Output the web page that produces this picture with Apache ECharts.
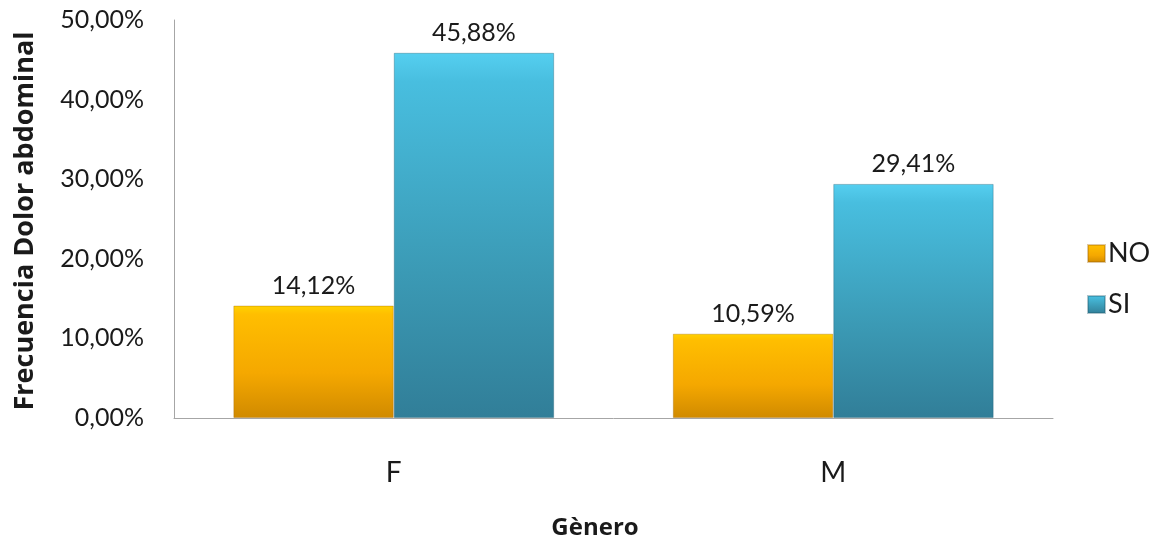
<!DOCTYPE html>
<html><head><meta charset="utf-8">
<script src="https://cdn.jsdelivr.net/npm/echarts@6/dist/echarts.min.js"></script>
<style>html,body{margin:0;padding:0;background:#fff}#c{width:1161px;height:542px}</style>
</head><body><div id="c"></div>
<script>
const categories = ['F', 'M'];
const seriesNames = ['NO', 'SI'];
const noValues = [14.12, 10.59];
const siValues = [45.88, 29.41];
const yTicks = [0, 10, 20, 30, 40, 50];
const xTitle = 'Gènero';
const yTitle = 'Frecuencia Dolor abdominal';

const FONT = 'Lato, "Open Sans", sans-serif';
const TFONT = '"Open Sans", Lato, sans-serif';
const fmt = v => v.toFixed(2).replace('.', ',') + '%';
const grad = (stops) => new echarts.graphic.LinearGradient(0, 0, 0, 1, stops);
const orange = grad([{offset:0,color:'#FFD200'},{offset:0.08,color:'#FFBE00'},{offset:0.6,color:'#F5A800'},{offset:1,color:'#D08A00'}]);
const blue = grad([{offset:0,color:'#55CFF0'},{offset:0.08,color:'#48BEDF'},{offset:0.6,color:'#3B9AB5'},{offset:1,color:'#317E98'}]);
const labelStyle = {show: true, position: 'top', distance: 7, fontFamily: FONT, fontSize: 25, color: '#1a1a1a', formatter: p => fmt(p.value)};

const chart = echarts.init(document.getElementById('c'), null, {renderer:'canvas'});
chart.setOption({
  animation: false,
  grid: {left: 174, right: 108, top: 20, bottom: 124, containLabel: false},
  legend: {
    orient: 'vertical', left: 1082, top: 235, itemWidth: 17, itemHeight: 17, itemGap: 24,
    icon: 'rect',
    textStyle: {fontFamily: FONT, fontSize: 27, color: '#1a1a1a', padding: [0,0,0,-2]},
    data: seriesNames
  },
  xAxis: {
    type: 'category', data: categories,
    axisLine: {lineStyle: {color: '#a6a6a6', width: 1}},
    axisTick: {show: false},
    axisLabel: {fontFamily: FONT, fontSize: 28, color: '#1a1a1a', margin: 41}
  },
  yAxis: {
    type: 'value', min: yTicks[0], max: yTicks[yTicks.length-1], interval: 10,
    axisLine: {show: true, lineStyle: {color: '#a6a6a6', width: 1}},
    axisTick: {show: false},
    splitLine: {show: false},
    axisLabel: {fontFamily: FONT, fontSize: 25, color: '#1a1a1a', margin: 30, formatter: v => fmt(v)}
  },
  graphic: [
    {type: 'text', x: 595, y: 528,
     style: {text: xTitle, font: 'bold 24px ' + TFONT, fill: '#1a1a1a', textAlign: 'center', textVerticalAlign: 'middle'}},
    {type: 'text', x: 25, y: 221, rotation: Math.PI/2,
     style: {text: yTitle, font: 'bold 27px ' + TFONT, fill: '#1a1a1a', textAlign: 'center', textVerticalAlign: 'middle'}}
  ],
  series: [
    {name: 'NO', type: 'bar', data: noValues, barGap: '0%', barCategoryGap: '27%',
     itemStyle: {color: orange, borderColor: 'rgba(160,100,0,0.35)', borderWidth: 1},
     label: labelStyle},
    {name: 'SI', type: 'bar', data: siValues,
     itemStyle: {color: blue, borderColor: 'rgba(30,90,110,0.35)', borderWidth: 1},
     label: labelStyle}
  ]
});
</script></body></html>
